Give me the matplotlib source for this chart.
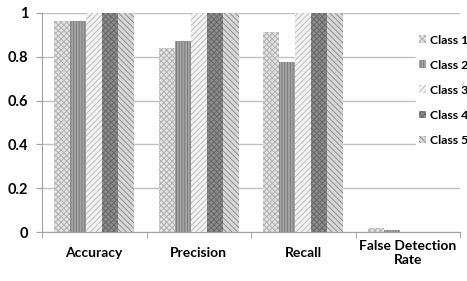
import numpy as np
import matplotlib.pyplot as plt

categories = ["Accuracy", "Precision", "Recall", "False Detection\nRate"]
classes = ["Class 1", "Class 2", "Class 3", "Class 4", "Class 5"]
class1 = [0.965, 0.842, 0.912, 0.02]
class2 = [0.965, 0.872, 0.775, 0.01]
class3 = [1.0, 1.0, 1.0, 0.0]
class4 = [1.0, 1.0, 1.0, 0.0]
class5 = [1.0, 1.0, 1.0, 0.0]
series = [class1, class2, class3, class4, class5]

# face colour, hatch colour, hatch pattern per class
styles = [
    ("#e4e4e4", "#b0b0b0", "xxxxxx"),
    ("#a4a4a4", "#7c7c7c", "||||||"),
    ("#f4f4f4", "#bcbcbc", "//////"),
    ("#8c8c8c", "#686868", "xxxxxx"),
    ("#d8d8d8", "#8e8e8e", "\\\\\\\\\\\\"),
]

plt.rcParams["font.family"] = ["Lato", "DejaVu Sans"]
plt.rcParams["hatch.linewidth"] = 0.7

fig = plt.figure(figsize=(4.67, 2.81), dpi=100)
ax = fig.add_axes([42 / 467, 49 / 281, 418 / 467, 219 / 281])

x = np.arange(len(categories))
w = 0.154
handles = []
for i, vals in enumerate(series):
    face, hc, hatch = styles[i]
    b = ax.bar(x + (i - 2) * w, vals, w, color=face, edgecolor=hc,
               hatch=hatch, linewidth=0, label=classes[i], zorder=2)
    handles.append(b)

ax.set_xlim(-0.5, len(categories) - 0.5)
ax.set_ylim(0, 1)
ax.set_yticks([0, 0.2, 0.4, 0.6, 0.8, 1.0])
ax.set_yticklabels(["0", "0.2", "0.4", "0.6", "0.8", "1"])
ax.yaxis.grid(True, color="#c0c0c0", linewidth=1, zorder=0)
ax.set_axisbelow(True)

ax.set_xticks(x)
ax.set_xticklabels(categories, fontweight="bold", fontsize=10, va="center")
ax.tick_params(axis="x", length=0, pad=15)
ax.set_xticks(np.arange(-0.5, len(categories)), minor=True)
ax.tick_params(axis="x", which="minor", length=4, color="#a0a0a0")
ax.tick_params(axis="y", length=4, color="#a0a0a0", labelsize=10.5, pad=6)
for lab in ax.get_yticklabels():
    lab.set_fontweight("bold")

for side in ["top", "right"]:
    ax.spines[side].set_visible(False)
for side in ["left", "bottom"]:
    ax.spines[side].set_color("#a0a0a0")

leg = fig.legend(handles=handles, loc="upper left",
                 bbox_to_anchor=(410 / 467, 1 - 26 / 281),
                 frameon=True, edgecolor="white", facecolor="white",
                 framealpha=1, fancybox=False, borderpad=0.2,
                 handlelength=0.6, handleheight=0.6, handletextpad=0.35,
                 labelspacing=1.15, prop={"weight": "bold", "size": 8.8})

fig.savefig("out.png", dpi=100)
